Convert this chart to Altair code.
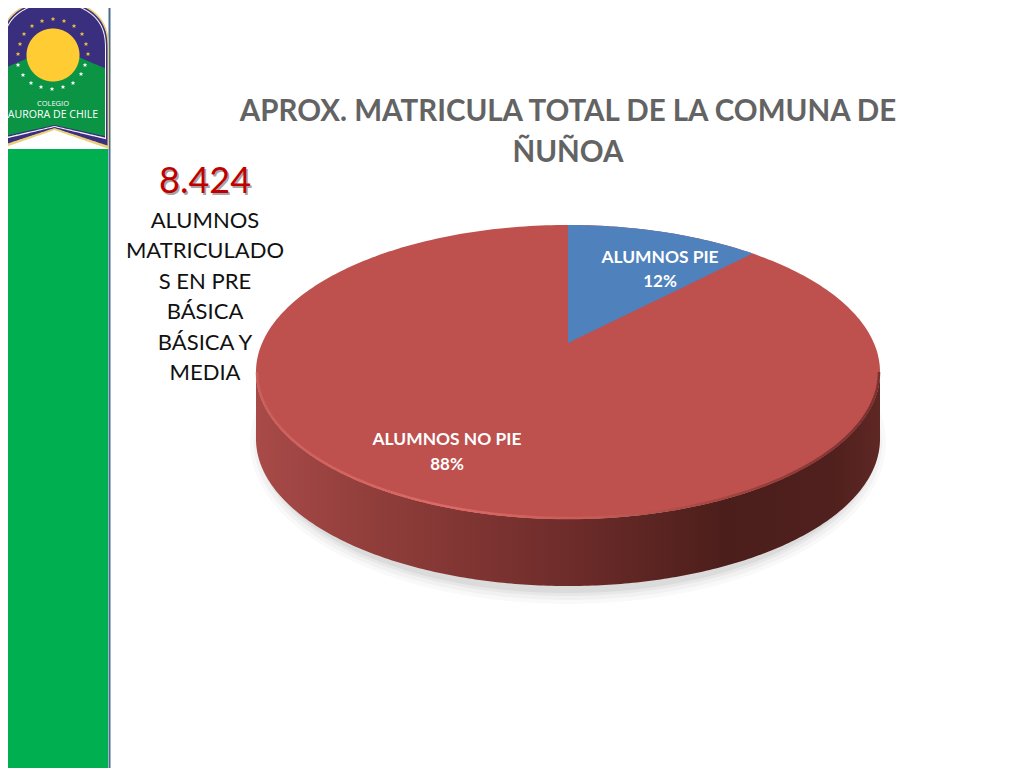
import numpy as np
import pandas as pd
import altair as alt

# ---- chart values
slice_labels = ["ALUMNOS PIE", "ALUMNOS NO PIE"]
slice_shares = [12, 88]
slice_colors = ["#4F81BD", "#BE504E"]
title_lines = ["APROX. MATRICULA TOTAL DE LA COMUNA DE", "ÑUÑOA"]
big_number = "8.424"
side_lines = ["ALUMNOS", "MATRICULADO", "S EN PRE", "BÁSICA", "BÁSICA Y", "MEDIA"]
side_y = [221, 251, 282, 312, 343, 373]
star_x = [53, 64, 74, 82, 86, 88, 85, 81, 73, 63, 52, 41, 31, 23, 18, 18, 20, 24, 32, 42]
star_y = [19, 21, 26, 34, 44, 54, 65, 74, 83, 87, 89, 87, 83, 75, 65, 54, 44, 34, 26, 21]

X = alt.X("x:Q", scale=alt.Scale(domain=[8, 1016], nice=False, zero=False), axis=None)
Y = alt.Y("y:Q", scale=alt.Scale(domain=[768, 8], nice=False, zero=False), axis=None)
Y2 = alt.Y2("y2:Q")

CX, CY, RX, RY, DEPTH = 568, 372, 312, 147, 67
APEX_Y = 343
TILT = 0.84  # foreshortening of the far slice under the 3-D view


def band(x, y, y2):
    return pd.DataFrame({"x": x, "y": y, "y2": y2})


def area(df, color, opacity=1.0):
    return alt.Chart(df).mark_area(color=color, opacity=opacity, orient="vertical", clip=True).encode(x=X, y=Y, y2=Y2)


def ellipse(cx, cy, rx, ry):
    t = np.linspace(0, np.pi, 181)
    x = cx - rx * np.cos(t)
    return band(x, cy - ry * np.sin(t), cy + ry * np.sin(t))


def text_layer(lines, xs, ys, size, color, bold=False, font="Lato"):
    df = pd.DataFrame({"x": xs, "y": ys, "t": lines})
    return alt.Chart(df).mark_text(
        fontSize=size, color=color, font=font, fontWeight="bold" if bold else "normal",
        align="center", baseline="middle",
    ).encode(x=X, y=Y, text="t:N")


layers = []

# frame: green band and its edge
layers.append(area(band([8, 108], [149, 149], [768, 768]), "#00B050"))
layers.append(alt.Chart(pd.DataFrame({"x": [109.5, 109.5], "y": [8, 768]})).mark_line(
    color="#4A6A90", strokeWidth=2).encode(x=X, y=Y))


# crest
def shield(inset, bottom_side, bottom_mid, top=-1, spring=50):
    t = np.linspace(0, np.pi, 121)
    cx = 54.5
    rx = 54.5 - inset
    x = cx - rx * np.cos(t)
    y = spring - (spring - top - inset) * np.sin(t) ** 0.75
    y2 = bottom_side + (bottom_mid - bottom_side) * (1 - np.abs(x - cx) / 54.5)
    return band(x, y, y2)


layers.append(area(shield(0, 149, 130), "#E9CF7A"))
layers.append(area(shield(1.5, 146, 128), "#3A2E7E"))
layers.append(area(shield(3, 140, 127), "#F4F4F4"))
layers.append(area(shield(4, 138.5, 126), "#3A2E7E"))
g = shield(4, 137, 125)
g["y"] = np.maximum(g["y"], 47 + (np.abs(g["x"] - 54.5)) * 21 / 50)
layers.append(area(g, "#0B9444"))
layers.append(area(ellipse(53, 55, 26.5, 26.5), "#FFCC33"))
stars = pd.DataFrame({"x": star_x, "y": star_y, "c": ["#E8C040" if v < 60 else "#FFFFFF" for v in star_y]})
STAR = "M0,-1L0.29,-0.31L0.95,-0.31L0.47,0.12L0.59,0.81L0,0.38L-0.59,0.81L-0.47,0.12L-0.95,-0.31L-0.29,-0.31Z"
layers.append(alt.Chart(stars).mark_point(shape=STAR, filled=True, size=22, opacity=1).encode(
    x=X, y=Y, color=alt.Color("c:N", scale=None)))
layers.append(text_layer(["COLEGIO"], [53], [104], 7.5, "#FFFFFF", False, "Open Sans"))
layers.append(text_layer(["AURORA DE CHILE"], [53], [114.5], 10.6, "#FFFFFF", False, "Open Sans"))

# soft shadow under the pie
for grow, op in [(14, 0.025), (10, 0.03), (6, 0.04), (3, 0.05)]:
    layers.append(area(ellipse(CX, CY + DEPTH + 4, RX + grow - 8, RY + grow), "#000000", op))

# rim
t = np.linspace(np.pi, 0, 241)
rim_x = CX + RX * np.cos(t)
rim_top = CY + RY * np.sin(t)
rim_fill = alt.Gradient(
    gradient="linear", x1=0, x2=1, y1=0, y2=0,
    stops=[
        alt.GradientStop(offset=0, color="#A84A48"),
        alt.GradientStop(offset=0.2, color="#8F3D3A"),
        alt.GradientStop(offset=0.5, color="#6E2C2A"),
        alt.GradientStop(offset=0.75, color="#4C1E1B"),
        alt.GradientStop(offset=0.92, color="#4F201D"),
        alt.GradientStop(offset=1, color="#5E2724"),
    ],
)
layers.append(area(band(rim_x, rim_top, rim_top + DEPTH), rim_fill))

# top face
layers.append(area(ellipse(CX, CY, RX, RY), slice_colors[1]))

# blue slice, its sweep taken from the share
sweep = 2 * np.pi * slice_shares[0] / sum(slice_shares) * TILT
ts = np.linspace(0, sweep, 61)
sx = CX + RX * np.sin(ts)
sy = CY - RY * np.cos(ts)
sy2 = APEX_Y + (sy[-1] - APEX_Y) * (sx - CX) / (sx[-1] - CX)
layers.append(area(band(sx, sy, sy2), slice_colors[0]))

# bevel highlight on the front edge
edge_t = np.linspace(np.pi, 0, 181)
edge = pd.DataFrame({"x": CX + (RX - 1) * np.cos(edge_t), "y": CY + (RY - 1) * np.sin(edge_t)})
edge_stroke = alt.Gradient(
    gradient="linear", x1=0, x2=1, y1=0, y2=0,
    stops=[
        alt.GradientStop(offset=0, color="#C9605C"),
        alt.GradientStop(offset=0.3, color="#DE6A66"),
        alt.GradientStop(offset=0.55, color="#C55A56"),
        alt.GradientStop(offset=0.8, color="#9A403C"),
        alt.GradientStop(offset=1, color="#7A302C"),
    ],
)
layers.append(alt.Chart(edge).mark_line(color=edge_stroke, strokeWidth=2.5).encode(x=X, y=Y))

# texts
layers.append(text_layer(title_lines, [568, 568], [112, 153], 29.5, "#636363", True))
layers.append(text_layer([big_number], [206.5], [184], 36, "#A6A6A6"))
layers.append(text_layer([big_number], [205], [182], 36, "#C00000"))
layers.append(text_layer(side_lines, [205] * 6, side_y, 22, "#111111"))
layers.append(text_layer([slice_labels[0]], [660], [258], 17.4, "#FFFFFF", True))
layers.append(text_layer([f"{slice_shares[0]}%"], [660], [282], 17, "#FFFFFF", True))
layers.append(text_layer([slice_labels[1]], [447], [440], 17.4, "#FFFFFF", True))
layers.append(text_layer([f"{slice_shares[1]}%"], [447], [465], 17, "#FFFFFF", True))

chart = alt.layer(*layers).properties(
    width=1008, height=760, padding=0,
    autosize=alt.AutoSizeParams(type="none"),
    background="#FFFFFF",
).configure_view(stroke=None)

chart.save("out.html", embed_options={"renderer": "svg", "actions": False})
